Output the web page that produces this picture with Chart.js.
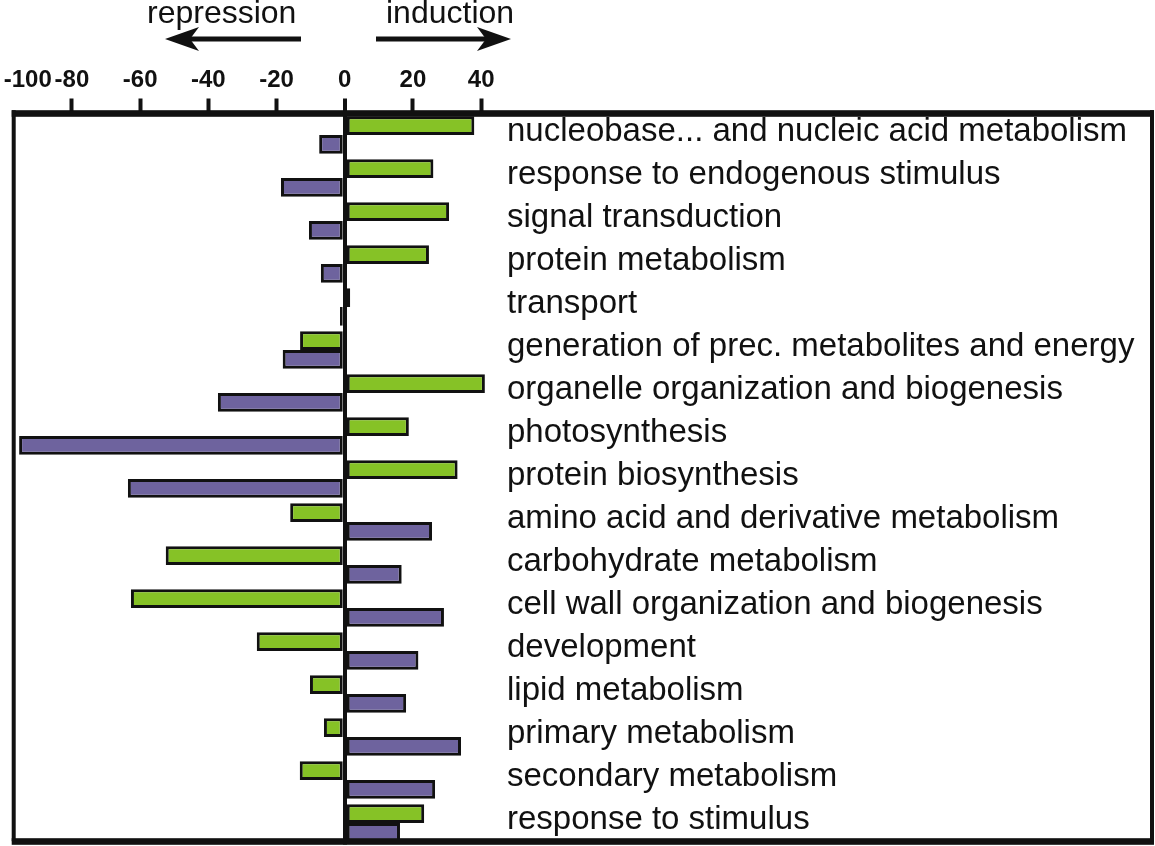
<!DOCTYPE html>
<html>
<head>
<meta charset="utf-8">
<script src="https://cdn.jsdelivr.net/npm/chart.js@4.4.1/dist/chart.umd.min.js"></script>
<style>
  html, body { margin: 0; padding: 0; background: #fff; }
  canvas { display: block; }
</style>
</head>
<body>
<canvas id="chart" width="1155" height="846"></canvas>
<script>
// categories, top to bottom
const categories = [
  "nucleobase... and nucleic acid metabolism",
  "response to endogenous stimulus",
  "signal transduction",
  "protein metabolism",
  "transport",
  "generation of prec. metabolites and energy",
  "organelle organization and biogenesis",
  "photosynthesis",
  "protein biosynthesis",
  "amino acid and derivative metabolism",
  "carbohydrate metabolism",
  "cell wall organization and biogenesis",
  "development",
  "lipid metabolism",
  "primary metabolism",
  "secondary metabolism",
  "response to stimulus"
];

// green bars (upper bar of each pair)
const greenValues = [38, 26, 30.6, 24.7, 1.6, -13.1, 41.1, 18.8, 33.1, -16, -52.5, -62.7, -25.8, -10.2, -6.1, -13.2, 23.3];
// purple bars (lower bar of each pair)
const purpleValues = [-7.5, -18.7, -10.5, -7, -1.4, -18.2, -37.2, -95.5, -63.6, 25.6, 16.7, 29.1, 21.6, 18, 34.1, 26.5, 16.2];

// x axis tick labels
const xTickValues = [-100, -80, -60, -40, -20, 0, 20, 40];
const xMin = -97;
const xMax = 47;

const INK = "#111";

const frameAndArrows = {
  id: "frameAndArrows",
  afterDraw(chart) {
    const ctx = chart.ctx;
    const a = chart.chartArea;
    const right = chart.scales.y.right;
    ctx.save();
    ctx.fillStyle = INK;
    // box around plot + labels
    ctx.fillRect(a.left - 2.3, a.top - 3.3, right - a.left + 4.3, 6.6);
    ctx.fillRect(a.left - 2.3, a.bottom - 6.3, right - a.left + 4.3, 6.6);
    ctx.fillRect(a.left - 2.3, a.top - 3.3, 4, a.bottom - a.top);
    ctx.fillRect(right - 2, a.top - 3.3, 4, a.bottom - a.top);

    // direction captions
    ctx.font = "32px 'Liberation Sans', Arial, sans-serif";
    ctx.textBaseline = "alphabetic";
    ctx.textAlign = "left";
    ctx.fillText("repression", 147, 23);
    ctx.fillText("induction", 386, 23);

    // arrows
    function arrow(tail, tip, y) {
      const dir = tip > tail ? 1 : -1;
      const headLen = 34, half = 12, notch = 9;
      const neck = tip - dir * (headLen - notch);
      ctx.fillRect(Math.min(tail, neck), y - 2.5, Math.abs(neck - tail), 5);
      ctx.beginPath();
      ctx.moveTo(tip, y);
      ctx.lineTo(tip - dir * headLen, y - half);
      ctx.lineTo(neck, y);
      ctx.lineTo(tip - dir * headLen, y + half);
      ctx.closePath();
      ctx.fill();
    }
    arrow(301, 165, 39);
    arrow(376, 511, 39);
    ctx.restore();
  }
};

const isShownTick = (v) => xTickValues.includes(v) && v !== -100;

new Chart(document.getElementById("chart"), {
  type: "bar",
  data: {
    labels: categories,
    datasets: [
      {
        label: "green",
        data: greenValues,
        backgroundColor: "#86C226",
        borderColor: INK,
        borderWidth: 3,
        borderSkipped: false
      },
      {
        label: "purple",
        data: purpleValues,
        backgroundColor: "#6E639E",
        borderColor: INK,
        borderWidth: 3,
        borderSkipped: false
      }
    ]
  },
  options: {
    indexAxis: "y",
    responsive: false,
    animation: false,
    datasets: {
      bar: { categoryPercentage: 0.87, barPercentage: 1.0 }
    },
    layout: { padding: { left: 14, right: 3, top: 0, bottom: 1.5 } },
    plugins: {
      legend: { display: false },
      tooltip: { enabled: false },
      title: { display: false }
    },
    scales: {
      x: {
        type: "linear",
        position: "top",
        min: xMin,
        max: xMax,
        bounds: "data",
        afterBuildTicks(scale) {
          scale.ticks = xTickValues.concat([xMax]).map((v) => ({ value: v }));
        },
        afterFit(scale) {
          scale.height = 113.5;
          scale.paddingLeft = 0;
          scale.paddingRight = 0;
        },
        border: { display: false },
        grid: {
          drawOnChartArea: true,
          drawTicks: true,
          tickLength: 15,
          tickWidth: 4,
          color: (c) => (c.tick && c.tick.value === 0 ? INK : "rgba(0,0,0,0)"),
          lineWidth: (c) => (c.tick && c.tick.value === 0 ? 4 : 1),
          tickColor: (c) => (c.tick && isShownTick(c.tick.value) ? INK : "rgba(0,0,0,0)")
        },
        ticks: {
          autoSkip: false,
          maxRotation: 0,
          align: "inner",
          padding: 4,
          color: INK,
          font: { family: "'Liberation Sans', Arial, sans-serif", size: 24, weight: "bold" },
          callback: (value) => (xTickValues.includes(value) ? String(value) : "")
        }
      },
      y: {
        position: "right",
        afterFit(scale) {
          scale.width = 647;
          scale.paddingTop = 0;
          scale.paddingBottom = 0;
        },
        border: { display: false },
        grid: { display: false, drawTicks: false },
        ticks: {
          autoSkip: false,
          padding: 2,
          labelOffset: -3,
          color: INK,
          font: { family: "'Liberation Sans', Arial, sans-serif", size: 33 }
        }
      }
    }
  },
  plugins: [frameAndArrows]
});
</script>
</body>
</html>
